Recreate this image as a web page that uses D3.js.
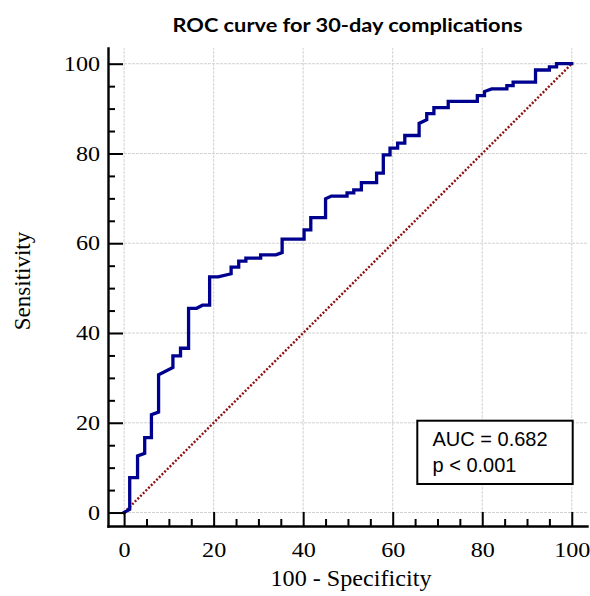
<!DOCTYPE html>
<html><head><meta charset="utf-8">
<script src="https://cdn.jsdelivr.net/npm/d3@7"></script>
<style>body{margin:0;background:#fff}</style>
</head><body>
<svg id="chart" width="590" height="596"></svg>
<script>
const title = "ROC curve for 30-day complications";
const xLabel = "100 - Specificity";
const yLabel = "Sensitivity";
// ROC curve vertices: 100 - Specificity (x), Sensitivity (y)
const fpr = [0, 1.25, 1.25, 3.0, 3.0, 4.6, 4.6, 6.1, 6.1, 7.7, 7.7, 10.9, 10.9, 12.6, 12.6, 14.4, 14.4, 16.2, 17.5, 19.1, 19.1, 21.0, 23.9, 23.9, 25.6, 25.6, 27.2, 27.2, 30.5, 30.5, 33.9, 35.3, 35.3, 40.2, 40.2, 41.7, 41.7, 45.0, 45.0, 46.3, 49.8, 49.8, 51.3, 51.3, 53.0, 53.0, 56.4, 56.4, 57.9, 57.9, 59.4, 59.4, 61.1, 61.1, 62.7, 62.7, 65.9, 65.9, 67.6, 67.6, 69.2, 69.2, 72.4, 72.4, 78.9, 78.9, 80.5, 80.5, 82.1, 85.5, 85.5, 86.9, 86.9, 91.9, 91.9, 95.0, 95.0, 96.6, 96.6, 100];
const tpr = [0, 0.7, 7.8, 7.8, 12.6, 13.2, 16.7, 16.7, 21.8, 22.4, 30.7, 32.3, 34.9, 34.9, 36.6, 36.6, 45.5, 45.5, 46.2, 46.2, 52.5, 52.5, 53.2, 54.7, 54.7, 56.0, 56.0, 56.7, 56.7, 57.4, 57.4, 57.9, 60.9, 60.9, 63.0, 63.0, 65.7, 65.7, 69.9, 70.5, 70.5, 71.2, 71.2, 71.9, 71.9, 73.5, 73.5, 75.6, 75.6, 79.7, 79.7, 81.2, 81.2, 82.3, 82.3, 84.0, 84.0, 86.7, 87.5, 88.9, 88.9, 90.2, 90.2, 91.6, 91.6, 92.9, 92.9, 93.8, 94.4, 94.4, 95.1, 95.1, 95.9, 95.9, 98.6, 98.6, 99.3, 99.3, 100, 100];
const refFpr = [0, 100];
const refTpr = [0, 100];
const majorTicks = [0, 20, 40, 60, 80, 100];
const minorTicks = [5, 10, 15, 25, 30, 35, 45, 50, 55, 65, 70, 75, 85, 90, 95];
const statLines = ["AUC = 0.682", "p < 0.001"];

const svg = d3.select("#chart");
svg.append("rect").attr("width", 590).attr("height", 596).attr("fill", "#fff");

const x = d3.scaleLinear().domain([-3.6, 103.4]).range([108, 587]);
const y = d3.scaleLinear().domain([-3, 103.5]).range([526, 48]);

// grid
const grid = svg.append("g").attr("stroke", "#d2d2d2").attr("stroke-width", 1).attr("stroke-dasharray", "3,1");
grid.selectAll("line.v").data(majorTicks).join("line").attr("class", "v")
  .attr("x1", d => x(d)).attr("x2", d => x(d)).attr("y1", y.range()[0]).attr("y2", y.range()[1]);
grid.selectAll("line.h").data(majorTicks).join("line").attr("class", "h")
  .attr("y1", d => y(d)).attr("y2", d => y(d)).attr("x1", x.range()[0]).attr("x2", x.range()[1]);

// reference diagonal
const line = d3.line().x(d => x(d[0])).y(d => y(d[1]));
svg.append("path").datum(d3.zip(refFpr, refTpr)).attr("d", line)
  .attr("fill", "none").attr("stroke", "#8e0f0f").attr("stroke-width", 2.4).attr("stroke-dasharray", "2,1.8");

// ROC curve
svg.append("path").datum(d3.zip(fpr, tpr)).attr("d", line)
  .attr("fill", "none").attr("stroke", "#00008f").attr("stroke-width", 3.3)
  .attr("stroke-linejoin", "miter").attr("stroke-linecap", "square");

// axes
const serif = "'Liberation Serif', 'Times New Roman', serif";
const stretch = 1.15;
const xAxisG = svg.append("g").attr("transform", `translate(0,${y.range()[0]})`)
  .call(d3.axisBottom(x).tickValues(majorTicks).tickSizeInner(-14).tickSizeOuter(0).tickPadding(0).tickFormat(d3.format("d")));
xAxisG.append("g").call(d3.axisBottom(x).tickValues(minorTicks).tickSizeInner(-7).tickSizeOuter(0).tickFormat(""))
  .call(g => g.select(".domain").remove());
xAxisG.attr("font-family", serif).attr("font-size", 21);
xAxisG.selectAll(".tick text").attr("dy", null).attr("y", 31).attr("fill", "#000")
  .attr("transform", `scale(${stretch},1)`);
xAxisG.select(".domain").attr("stroke-width", 2.4).attr("stroke-linecap", "square");
xAxisG.selectAll(".tick line").attr("stroke-width", 2).attr("stroke", "#000");

const yAxisG = svg.append("g").attr("transform", `translate(${x.range()[0]},0)`)
  .call(d3.axisLeft(y).tickValues(majorTicks).tickSizeInner(-15).tickSizeOuter(0).tickPadding(8).tickFormat(d3.format("d")));
yAxisG.append("g").call(d3.axisLeft(y).tickValues(minorTicks).tickSizeInner(-7).tickSizeOuter(0).tickFormat(""))
  .call(g => g.select(".domain").remove());
yAxisG.attr("font-family", serif).attr("font-size", 21);
yAxisG.selectAll(".tick text").attr("fill", "#000").attr("x", -8 / stretch)
  .attr("transform", `scale(${stretch},1)`);
yAxisG.select(".domain").attr("stroke-width", 2.4).attr("stroke-linecap", "square");
yAxisG.selectAll(".tick line").attr("stroke-width", 2).attr("stroke", "#000");

// axis titles
svg.append("text").attr("transform", "translate(351,586) scale(1.05,1)").attr("text-anchor", "middle")
  .attr("font-family", serif).attr("font-size", 23).attr("fill", "#000").text(xLabel);
svg.append("text").attr("transform", "translate(30,281) rotate(-90)").attr("text-anchor", "middle")
  .attr("font-family", serif).attr("font-size", 23).attr("fill", "#000").text(yLabel);

// title
svg.append("text").attr("x", 347.5).attr("y", 32).attr("text-anchor", "middle")
  .attr("font-family", "Lato, 'Open Sans', sans-serif").attr("font-weight", "bold").attr("font-size", 19.5)
  .attr("textLength", 350).attr("lengthAdjust", "spacingAndGlyphs")
  .attr("fill", "#000").text(title);

// stats box
const box = svg.append("g");
box.append("rect").attr("x", 417.3).attr("y", 420.7).attr("width", 155.4).attr("height", 63.3)
  .attr("fill", "#fff").attr("stroke", "#000").attr("stroke-width", 2);
box.selectAll("text").data(statLines).join("text")
  .attr("x", 432.5).attr("y", (d, i) => 445.7 + i * 26)
  .attr("font-family", "'Liberation Sans', Arial, sans-serif").attr("font-size", 20).attr("fill", "#000")
  .text(d => d);
</script>
</body></html>
